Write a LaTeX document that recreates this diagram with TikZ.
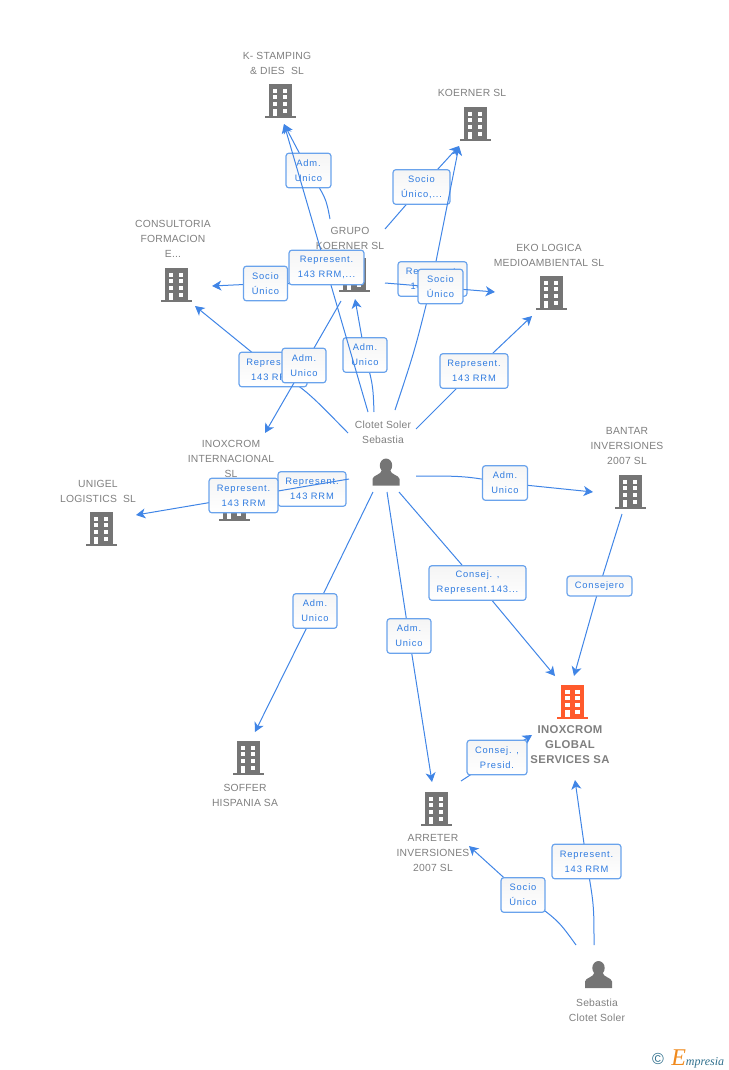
\documentclass[tikz,border=0pt]{standalone}
\usepackage{fontspec}
\setmainfont{Liberation Sans}
\newfontfamily\labelfont[LetterSpace=2]{Liberation Sans}
\newfontfamily\boldfont[LetterSpace=3]{Liberation Sans}
\newfontfamily\boxfont[LetterSpace=9]{Liberation Sans}
\newfontfamily\logofont{Liberation Serif}
\usetikzlibrary{arrows.meta}
\definecolor{iconGray}{HTML}{757575}
\definecolor{textGray}{HTML}{7F7F7F}
\definecolor{linkBlue}{HTML}{4085E6}
\definecolor{boxBlue}{HTML}{6AA3EC}
\definecolor{boxText}{HTML}{2F7BE0}
\definecolor{mainOrange}{HTML}{FF5A2C}
\definecolor{logoTeal}{HTML}{2F6F8C}
\definecolor{logoOrange}{HTML}{F08A1D}
\tikzset{
  building/.pic={
    \fill[pic actions] (-11.5,-17) rectangle (11.5,15);
    \fill[pic actions] (-15.5,15) rectangle (15.5,17);
    \foreach \wy in {-12.3,-5.7,1} {
      \fill[white] (-7.3,\wy) rectangle ++(4.3,4);
      \fill[white] (2.7,\wy) rectangle ++(4.3,4);
    }
    \fill[white] (-7.3,7.7) rectangle (-3,15);
    \fill[white] (2.7,7.7) rectangle ++(4.3,4);
  },
  person/.pic={
    \fill[iconGray] (0,-6.5) ellipse (6.2 and 7);
    \fill[iconGray] (-13.5,13.5) -- (-13.5,7) .. controls (-13,3) and (-5,3) .. (-4,-2) -- (4,-2) .. controls (5,3) and (13,3) .. (13.5,7) -- (13.5,13.5) -- cycle;
  },
  entity/.style={align=center,text=textGray,font=\labelfont\fontsize{7.75}{11.25}\selectfont,inner sep=0pt},
  link/.style={draw=linkBlue,line width=0.75pt,-{Stealth[length=7pt,width=7.5pt,inset=2pt]}},
  linkbox/.style={draw=boxBlue,line width=0.9pt,rounded corners=2.2pt,top color=black!4,bottom color=white,
    align=center,text=boxText,font=\boxfont\fontsize{7}{11.25}\selectfont,inner sep=0pt,
    minimum width=#1*0.75pt,minimum height=26pt},
}
\begin{document}
\begin{tikzpicture}[x=0.75pt,y=-0.75pt]
\useasboundingbox (0,0) rectangle (728,1070);

% buildings
\pic[fill=iconGray] at (280,101) {building};
\pic[fill=iconGray] at (475,124) {building};
\pic[fill=iconGray] at (176,285) {building};
\pic[fill=iconGray] at (354,275) {building};
\pic[fill=iconGray] at (551,293) {building};
\pic[fill=iconGray] at (234,504) {building};
\pic[fill=iconGray] at (101,529) {building};
\pic[fill=iconGray] at (630,492) {building};
\pic[fill=iconGray] at (248,758) {building};
\pic[fill=iconGray] at (436,809) {building};
\pic[fill=mainOrange] at (572.5,702) {building};

% people
\pic at (386,472) {person};
\pic at (598.5,974.5) {person};

% names
\node[entity] (kstamping) at (277,63) {K- STAMPING\\\& DIES\ \ SL};
\node[entity] (koerner) at (472,93) {KOERNER SL};
\node[entity] (consultoria) at (173,239) {CONSULTORIA\\FORMACION\\E...};
\node[entity] (grupo) at (350,238) {GRUPO\\KOERNER SL};
\node[entity] (eko) at (549,255) {EKO LOGICA\\MEDIOAMBIENTAL SL};
\node[entity] (interna) at (231,459) {INOXCROM\\INTERNACIONAL\\SL};
\node[entity] (unigel) at (98,491) {UNIGEL\\LOGISTICS\ \ SL};
\node[entity] (bantar) at (627,446) {BANTAR\\INVERSIONES\\2007 SL};
\node[entity] (soffer) at (245,795) {SOFFER\\HISPANIA SA};
\node[entity] (arreter) at (433,853) {ARRETER\\INVERSIONES\\2007 SL};
\node[entity,font=\boldfont\bfseries\fontsize{8.5}{11.25}\selectfont] (global) at (570,745) {INOXCROM\\GLOBAL\\SERVICES SA};
\node[entity] (clotet) at (383,432) {Clotet Soler\\Sebastia};
\node[entity] (sebastia) at (597,1010) {Sebastia\\Clotet Soler};

% free ends of the links
\coordinate (fromClotetK) at (368,412);
\coordinate (toK) at (284,124);
\coordinate (fromGrupoK) at (330,219);
\coordinate (fromGrupoN) at (385,229);
\coordinate (toKoerner) at (459,146);
\coordinate (fromClotetN) at (395,410);
\coordinate (fromGrupoE) at (385,283);
\coordinate (toEko) at (495,292);
\coordinate (fromClotetE) at (416,429);
\coordinate (toEkoB) at (532,316);
\coordinate (fromGrupoC) at (354,284);
\coordinate (toConsA) at (212,286);
\coordinate (fromClotetC) at (348,433);
\coordinate (toConsB) at (195,306);
\coordinate (fromGrupoI) at (341,301);
\coordinate (toInterna) at (265,433);
\coordinate (fromClotetG) at (374,412);
\coordinate (toGrupo) at (355,299);
\coordinate (fromClotetU) at (349,479);
\coordinate (toUnigel) at (136,515);
\coordinate (fromClotetB) at (416,476);
\coordinate (toBantar) at (593,492);
\coordinate (fromBantar) at (622,514);
\coordinate (toGlobalA) at (574,676);
\coordinate (fromClotetM) at (399,492);
\coordinate (toGlobalB) at (555,676);
\coordinate (fromClotetA) at (387,492);
\coordinate (toArreter) at (432,782);
\coordinate (fromClotetS) at (373,492);
\coordinate (toSoffer) at (255,732);
\coordinate (fromArreter) at (461,781);
\coordinate (toGlobalC) at (532,735);
\coordinate (fromSebR) at (594,945);
\coordinate (toGlobalD) at (575,780);
\coordinate (fromSebS) at (576,945);
\coordinate (toArreterB) at (469,846);

% middle of each box
\coordinate (midAdmK) at (308.5,170.5);
\coordinate (midSocioN) at (421.5,187);
\coordinate (midRepN) at (432.5,279);
\coordinate (midRepE) at (474,371);
\coordinate (midSocioC) at (265.5,283.5);
\coordinate (midRepC) at (273,369.5);
\coordinate (midAdmI) at (304,365.5);
\coordinate (midAdmG) at (365,355);
\coordinate (midAdmB) at (505,483);
\coordinate (midConsejero) at (599.5,586);
\coordinate (midConsM) at (477.5,583);
\coordinate (midAdmA) at (409,636);
\coordinate (midAdmS) at (315,611);
\coordinate (midConsP) at (497,757.5);
\coordinate (midRepG) at (586.5,861.5);
\coordinate (midSocioA) at (523,895);

% links and their boxes
\draw[link] (fromGrupoK) .. controls (326,198) .. (midAdmK) -- (toK);
\node[linkbox=45] (admK) at (midAdmK) {Adm.\\Unico};

\draw[link] (fromGrupoN) -- (midSocioN) -- (toKoerner);
\node[linkbox=57] (socioN) at (midSocioN) {Socio\\Único,...};

\draw[link] (fromClotetN) .. controls (415,350) .. (midRepN) -- (toKoerner);
\node[linkbox=69] (repN) at (midRepN) {Represent.\\143 RRM};

\draw[link] (fromClotetE) -- (midRepE) -- (toEkoB);
\node[linkbox=68] (repE) at (midRepE) {Represent.\\143 RRM};

\draw[link] (fromGrupoC) -- (midSocioC) -- (toConsA);
\node[linkbox=44] (socioC) at (midSocioC) {Socio\\Único};

\draw[link] (fromClotetC) .. controls (306,390) .. (midRepC) -- (toConsB);
\node[linkbox=68] (repC) at (midRepC) {Represent.\\143 RRM};

\draw[link] (fromGrupoI) -- (midAdmI) -- (toInterna);
\node[linkbox=44] (admI) at (midAdmI) {Adm.\\Unico};

\draw[link] (fromClotetG) .. controls (373,385) .. (midAdmG) -- (toGrupo);
\node[linkbox=44] (admG) at (midAdmG) {Adm.\\Unico};

\draw[link] (fromClotetK) -- (toK);
\node[linkbox=75] (repK) at (326.5,267.5) {Represent.\\143 RRM,...};

\draw[link] (fromGrupoE) -- (toEko);
\node[linkbox=45] (socioE) at (440.5,286.5) {Socio\\Único};

\node[linkbox=68] (repI) at (312,489) {Represent.\\143 RRM};
\draw[link] (fromClotetU) -- (toUnigel);
\node[linkbox=69] (repU) at (243.5,495.5) {Represent.\\143 RRM};

\draw[link] (fromClotetB) .. controls (465,476) .. (midAdmB) -- (toBantar);
\node[linkbox=45] (admB) at (midAdmB) {Adm.\\Unico};

\draw[link] (fromBantar) -- (midConsejero) -- (toGlobalA);
\node[linkbox=65,minimum height=15pt] (consejero) at (midConsejero) {Consejero};

\draw[link] (fromClotetM) -- (midConsM) -- (toGlobalB);
\node[linkbox=97] (consM) at (midConsM) {Consej. ,\\Represent.143...};

\draw[link] (fromClotetA) -- (midAdmA) -- (toArreter);
\node[linkbox=44] (admA) at (midAdmA) {Adm.\\Unico};

\draw[link] (fromClotetS) -- (midAdmS) -- (toSoffer);
\node[linkbox=44] (admS) at (midAdmS) {Adm.\\Unico};

\draw[link] (fromArreter) -- (midConsP) -- (toGlobalC);
\node[linkbox=60] (consP) at (midConsP) {Consej. ,\\Presid.};

\draw[link] (fromSebR) .. controls (594,905) .. (midRepG) -- (toGlobalD);
\node[linkbox=69] (repG) at (midRepG) {Represent.\\143 RRM};

\draw[link] (fromSebS) .. controls (558,920) .. (midSocioA) -- (toArreterB);
\node[linkbox=44] (socioA) at (midSocioA) {Socio\\Único};

% logo
\node[inner sep=0pt,text=logoTeal,font=\fontsize{12}{12}\selectfont] (logoC) at (658,1059) {©};
\node[inner sep=0pt,anchor=west,text=logoTeal,font=\logofont\itshape\fontsize{9}{9}\selectfont] (logo) at (671,1059) {\textcolor{logoOrange}{\fontsize{18}{18}\selectfont E}mpresia};
\end{tikzpicture}
\end{document}
